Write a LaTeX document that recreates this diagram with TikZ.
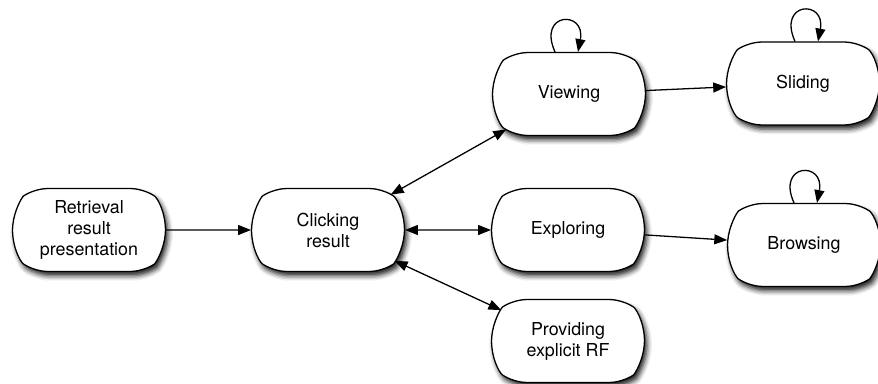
\documentclass[tikz,border=0pt]{standalone}
\usepackage{fontspec}
\setmainfont{TeX Gyre Heros}
\usetikzlibrary{arrows.meta,shapes.misc,shadows.blur,calc}

\tikzset{
  state/.style={rounded rectangle, rounded rectangle arc length=110, rounded corners=9pt,
    draw, line width=0.9pt,
    fill=white, minimum width=107pt, minimum height=58pt, inner sep=0pt, align=center,
    font=\fontsize{12.5}{14.7}\selectfont,
    blur shadow={shadow xshift=1.8pt, shadow yshift=-3pt, shadow blur radius=3.5pt, shadow opacity=90}},
  flow/.style={line width=0.9pt, -{Triangle[length=9pt,width=7pt]}},
  both/.style={line width=0.9pt, {Triangle[length=9pt,width=7pt]}-{Triangle[length=9pt,width=7pt]}},
}

\begin{document}
\begin{tikzpicture}[x=0.7pt,y=0.7pt]
  \useasboundingbox (0,0) rectangle (878,383);
  % states
  \node[state] (ret) at (89,153) {Retrieval\\result\\presentation};
  \node[state] (clk) at (328,153) {Clicking\\result};
  \node[state] (view) at (569,289) {Viewing};
  \node[state] (slide) at (803,299.5) {Sliding};
  \node[state] (expl) at (568,153) {Exploring};
  \node[state] (brow) at (804,138) {Browsing};
  \node[state] (prov) at (568,42) {Providing\\explicit RF};

  % transitions
  \draw[flow] (ret) -- (clk);
  \draw[both] (clk) -- (view);
  \draw[both] (clk) -- (expl);
  \draw[both] (clk) -- (prov);
  \draw[flow] (view) -- (slide);
  \draw[flow] (expl) -- (brow);

  % self loops
  \draw[flow] ($(view.north)+(-14,0)$) .. controls +(-18,40) and +(8,42) .. ($(view.north)+(9,0)$);
  \draw[flow] ($(slide.north)+(-8,0)$) .. controls +(-18,40) and +(8,42) .. ($(slide.north)+(15,0)$);
  \draw[flow] ($(brow.north)+(-10,0)$) .. controls +(-18,40) and +(8,42) .. ($(brow.north)+(13,0)$);
\end{tikzpicture}
\end{document}
